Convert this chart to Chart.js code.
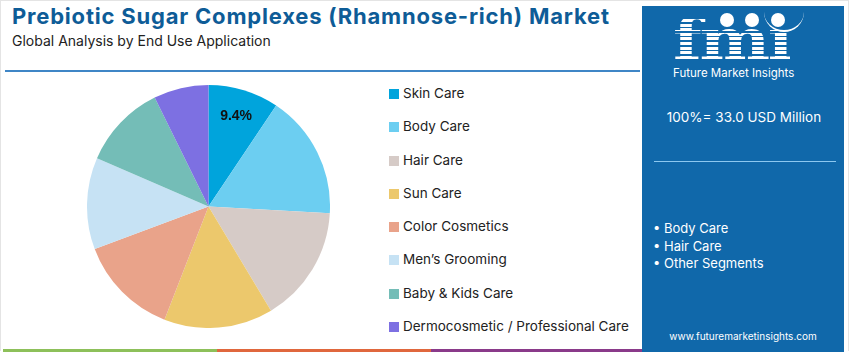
<!DOCTYPE html>
<html>
<head>
<meta charset="utf-8">
<script src="https://cdn.jsdelivr.net/npm/chart.js@4/dist/chart.umd.min.js"></script>
<style>
  html, body { margin: 0; padding: 0; }
  body { width: 850px; height: 352px; position: relative; overflow: hidden; background: #fff; font-family: "Inter", "Open Sans", sans-serif; }
  .frame { position: absolute; left: 0; top: 0; width: 849px; height: 351px; border: 1px solid #e4e4e4; border-bottom: none; box-sizing: border-box; }
  #title { position: absolute; left: 12px; top: 3px; font-size: 22px; font-weight: 700; color: #0e5c97; letter-spacing: 0.8px; white-space: nowrap; }
  #subtitle { position: absolute; left: 12px; top: 32px; font-size: 14px; color: #222; white-space: nowrap; }
  .rule { position: absolute; left: 5px; top: 70px; width: 635px; height: 2px; background: #3f86c6; }
  #pieBox { position: absolute; left: 87px; top: 85px; width: 243px; height: 243px; }
  #legend { position: absolute; left: 389px; top: 85px; margin: 0; padding: 0; list-style: none; }
  #legend li { height: 33.3px; display: flex; align-items: flex-start; font-size: 13.5px; color: #222; white-space: nowrap; }
  #legend li span.box { width: 10px; height: 10px; margin-right: 4px; margin-top: 4px; flex: none; }
  .panel { position: absolute; left: 642px; top: 6px; width: 202px; height: 346px; background: #1068aa; color: #fff; }
  .logo { position: absolute; left: 31px; top: 13px; height: 42px; font-family: "DejaVu Serif", serif; font-weight: 700; font-size: 58px; line-height: 42px; letter-spacing: -2px;
          transform-origin: 0 0; transform: scaleX(1.15);
          background: repeating-linear-gradient(#fff 0 3px, #1068aa 3px 4.6px); -webkit-background-clip: text; background-clip: text; color: transparent; }
  .dot { position: absolute; width: 14px; height: 14px; border-radius: 50%; background: #fff; }
  .arc { position: absolute; left: 122px; top: 6px; width: 40px; height: 18px; border-bottom: 2px solid #fff; border-radius: 0 0 30px 30px; }
  .brand { position: absolute; left: 31px; top: 60px; font-size: 11.5px; line-height: 14px; color: #fff; white-space: nowrap; }
  .total { position: absolute; left: 0; width: 204px; top: 103px; text-align: center; font-size: 13.5px; }
  .divider { position: absolute; left: 12px; top: 155px; width: 182px; height: 1px; background: #8cc8f0; }
  .bullets { position: absolute; left: 11px; top: 214px; font-size: 13px; line-height: 17.5px; }
  .site { position: absolute; left: 0; width: 202px; top: 324px; text-align: center; font-size: 10px; }
  .bar { position: absolute; top: 349px; height: 3px; }
</style>
</head>
<body>
<div class="frame"></div>
<div id="title">Prebiotic Sugar Complexes (Rhamnose-rich) Market</div>
<div id="subtitle">Global Analysis by End Use Application</div>
<div class="rule"></div>

<div id="pieBox"><canvas id="pie"></canvas></div>
<ul id="legend"></ul>

<div class="panel">
  <div class="logo">fmı</div>
  <div class="dot" style="left:78px;top:7px"></div>
  <div class="dot" style="left:103px;top:7px"></div>
  <div class="dot" style="left:129px;top:7px"></div>
  <div class="arc"></div>
  <div class="brand">Future Market Insights</div>
  <div class="total">100%= 33.0 USD Million</div>
  <div class="divider"></div>
  <div class="bullets">• Body Care<br>• Hair Care<br>• Other Segments</div>
  <div class="site">www.futuremarketinsights.com</div>
</div>

<div class="bar" style="left:3px;width:214px;background:#8dc05a"></div>
<div class="bar" style="left:217px;width:214px;background:#e0673d"></div>
<div class="bar" style="left:431px;width:211px;background:#8a3a8a"></div>

<script>
// End use application shares (%)
const categories = ['Skin Care', 'Body Care', 'Hair Care', 'Sun Care', 'Color Cosmetics', 'Men\u2019s Grooming', 'Baby & Kids Care', 'Dermocosmetic / Professional Care'];
const shares = [9.4, 16.5, 15.5, 14.5, 13.4, 12.2, 11.2, 7.3];
const sliceColors = ['#00a4dc', '#6ccef1', '#d6cbc7', '#ecc86c', '#e9a38a', '#c6e2f4', '#74bdb7', '#7d70e2'];
const labelledSlices = [0]; // only the first slice carries a label

// legend
const legend = document.getElementById('legend');
categories.forEach((name, i) => {
    const li = document.createElement('li');
    li.innerHTML = `<span class="box" style="background:${sliceColors[i]}"></span>${name}`;
    legend.appendChild(li);
});

// draws the percentage inside the chosen slices
const sliceLabels = {
    id: 'sliceLabels',
    afterDatasetsDraw(chart) {
        const ctx = chart.ctx;
        const meta = chart.getDatasetMeta(0);
        ctx.save();
        ctx.font = 'bold 14px "Liberation Sans", Arial, sans-serif';
        ctx.fillStyle = '#111';
        ctx.textAlign = 'center';
        ctx.textBaseline = 'middle';
        labelledSlices.forEach(i => {
            const arc = meta.data[i];
            const p = arc.getProps(['x', 'y', 'startAngle', 'endAngle', 'outerRadius'], true);
            const mid = (p.startAngle + p.endAngle) / 2;
            const r = p.outerRadius * 0.78;
            ctx.fillText(shares[i].toFixed(1) + '%', p.x + Math.cos(mid) * r, p.y + Math.sin(mid) * r);
        });
        ctx.restore();
    }
};

new Chart(document.getElementById('pie'), {
    type: 'pie',
    data: {
        labels: categories,
        datasets: [{ data: shares, backgroundColor: sliceColors, borderWidth: 0 }]
    },
    options: {
        responsive: true,
        maintainAspectRatio: false,
        animation: false,
        layout: { padding: 0 },
        plugins: { legend: { display: false }, tooltip: { enabled: false } }
    },
    plugins: [sliceLabels]
});
</script>
</body>
</html>
